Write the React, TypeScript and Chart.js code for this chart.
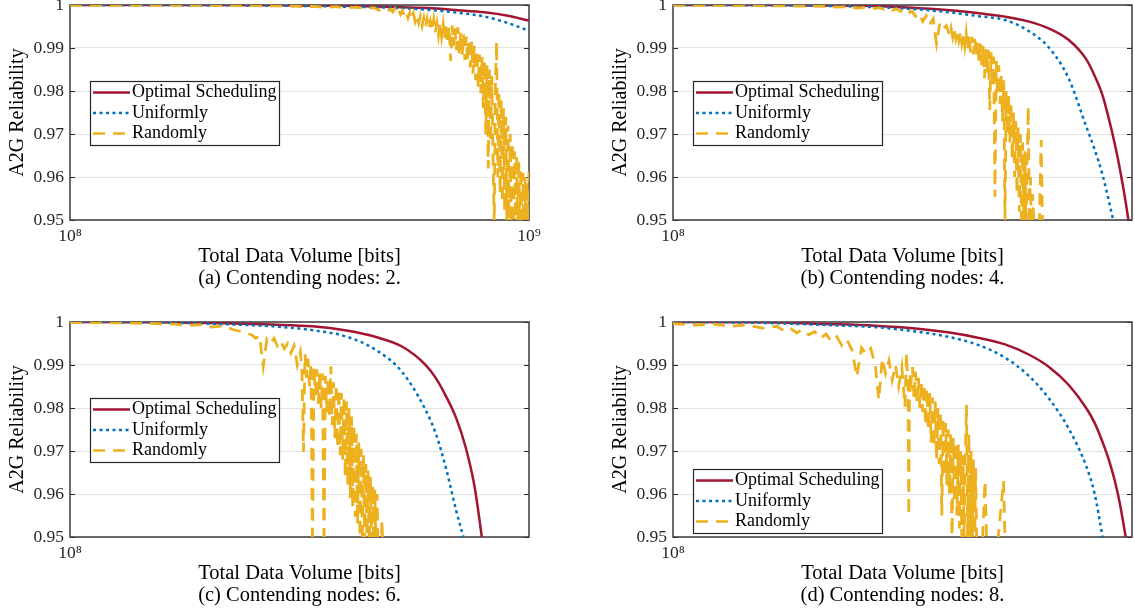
import React, { useEffect, useRef } from 'react';
import { Chart, registerables } from 'chart.js';

Chart.register(...registerables);

const FONT = '"Liberation Serif", "Times New Roman", serif';
Chart.defaults.font.family = FONT;

const SERIES_LABELS = ['Optimal Scheduling', 'Uniformly', 'Randomly'];
const SERIES_COLORS = ['#A2142F', '#0072BD', '#EDB120'];
const Y_TICKS = [0.95, 0.96, 0.97, 0.98, 0.99, 1];
const X_DECADES = [1e8, 1e9];
const X_UNIT = 1e8; // x arrays below are given in units of 1e8 bits
const X_LABEL = 'Total Data Volume [bits]';
const Y_LABEL = 'A2G Reliability';

// ---------- (a) Contending nodes: 2 ----------
const A_X = [1, 2, 3, 4, 5, 6, 7, 8, 9, 10];
const A_OPT = [1.0, 0.99998, 0.99992, 0.9998, 0.99955, 0.9993, 0.9988, 0.9983, 0.9975, 0.99636];
const A_UNI = [1.0, 0.99995, 0.9998, 0.9996, 0.99935, 0.9989, 0.9982, 0.9973, 0.9958, 0.994];
const A_RAND_X = [1, 1.5, 2, 2.5, 3, 3.2, 3.4, 3.6, 3.8, 4, 4.2, 4.4, 4.6, 4.7, 4.8, 4.9,
  5, 5.05, 5.1, 5.15, 5.2, 5.25, 5.3, 5.35, 5.4, 5.45, 5.5, 5.55, 5.6, 5.65, 5.7, 5.75, 5.8, 5.85, 5.9, 5.95,
  6, 6.05, 6.1, 6.15, 6.2, 6.25, 6.3, 6.35, 6.4, 6.45, 6.5, 6.55, 6.6, 6.65, 6.7, 6.75, 6.8, 6.85, 6.9, 6.95,
  7, 7.05, 7.1, 7.15, 7.2, 7.25, 7.3, 7.35, 7.4, 7.45, 7.5, 7.55, 7.6, 7.65, 7.7, 7.75, 7.8, 7.85, 7.9, 7.95,
  8, 8.05, 8.1, 8.15, 8.2, 8.25, 8.3, 8.35, 8.4, 8.45, 8.5, 8.55, 8.6, 8.65, 8.7, 8.75, 8.8, 8.85, 8.9, 8.95,
  9, 9.05, 9.1, 9.15, 9.2, 9.25, 9.3, 9.35, 9.4, 9.45, 9.5, 9.55, 9.6, 9.65, 9.7, 9.75, 9.8, 9.85, 9.9, 9.95, 10];
const A_RAND = [0.99995, 0.9999, 0.9999, 0.99985, 0.9998, 0.9996, 0.9997, 0.9994, 0.9996, 0.9993, 0.9995, 0.9992, 0.9994, 0.9988, 0.9992, 0.9986,
  0.999, 0.9984, 0.9991, 0.998, 0.9988, 0.9978, 0.9986, 0.9975, 0.9984, 0.997, 0.9982, 0.9966, 0.998, 0.9962, 0.9976, 0.9958, 0.9974, 0.9952, 0.997, 0.9948,
  0.9968, 0.9944, 0.9962, 0.994, 0.9966, 0.9936, 0.9958, 0.993, 0.996, 0.9926, 0.9955, 0.9918, 0.9958, 0.991, 0.995, 0.987, 0.9952, 0.9905, 0.9946, 0.9895,
  0.9948, 0.9888, 0.9938, 0.988, 0.9932, 0.9872, 0.9926, 0.9868, 0.992, 0.9855, 0.9915, 0.984, 0.9905, 0.9825, 0.9895, 0.981, 0.9885, 0.9795, 0.988, 0.976,
  0.987, 0.97, 0.986, 0.962, 0.985, 0.968, 0.9835, 0.964, 0.949, 0.982, 0.9915, 0.96, 0.98, 0.956, 0.978, 0.954, 0.976, 0.952, 0.974, 0.95,
  0.972, 0.948, 0.97, 0.949, 0.968, 0.947, 0.966, 0.948, 0.965, 0.946, 0.964, 0.947, 0.962, 0.946, 0.961, 0.945, 0.96, 0.946, 0.959, 0.947, 0.9613];

// ---------- (b) Contending nodes: 4 ----------
const B_X = [1, 1.5, 2, 2.5, 3, 3.5, 4, 4.5, 5, 5.5, 6, 6.5, 6.75, 7, 7.25, 7.5, 7.75, 8];
const B_OPT = [1.0, 0.99999, 0.9999, 0.99975, 0.9993, 0.9988, 0.9981, 0.9973, 0.9962, 0.9945, 0.9919, 0.9874, 0.9836, 0.979, 0.9722, 0.9644, 0.9551, 0.9444];
const B_UNI = [1.0, 0.99995, 0.9998, 0.9995, 0.999, 0.9983, 0.9974, 0.9965, 0.994, 0.99, 0.983, 0.9718, 0.9665, 0.9605, 0.953, 0.945, 0.936, 0.927];
const B_RAND_X = [1, 1.2, 1.4, 1.6, 1.8, 2, 2.1, 2.2, 2.3, 2.4, 2.5, 2.55, 2.6, 2.65, 2.7, 2.75, 2.8, 2.85, 2.9, 2.95, 3, 3.05, 3.1, 3.15, 3.2, 3.25, 3.3, 3.35, 3.4, 3.45,
  3.5, 3.525, 3.55, 3.575, 3.6, 3.625, 3.65, 3.675, 3.7, 3.725, 3.75, 3.775, 3.8, 3.825, 3.85, 3.875, 3.9, 3.925, 3.95, 3.975,
  4, 4.025, 4.05, 4.075, 4.1, 4.125, 4.15, 4.175, 4.2, 4.225, 4.25, 4.275, 4.3, 4.325, 4.35, 4.375, 4.4, 4.425, 4.45, 4.475,
  4.5, 4.525, 4.55, 4.575, 4.6, 4.625, 4.65, 4.675, 4.7, 4.725, 4.75, 4.775, 4.8, 4.825, 4.85, 4.875, 4.9, 4.925, 4.95, 4.975,
  5, 5.025, 5.05, 5.075, 5.1, 5.15, 5.2, 5.25, 5.3, 5.35];
const B_RAND = [0.99995, 0.9999, 0.99985, 0.9998, 0.99975, 0.9997, 0.9995, 0.9996, 0.9993, 0.9995, 0.9992, 0.9994, 0.999, 0.9993, 0.9988, 0.9991, 0.9985, 0.9989, 0.998, 0.9986, 0.9974, 0.9981, 0.9962, 0.9975, 0.9955, 0.9968, 0.991, 0.9958, 0.9945, 0.9952,
  0.993, 0.9946, 0.9925, 0.9944, 0.9922, 0.994, 0.9918, 0.9938, 0.9912, 0.9936, 0.9905, 0.9934, 0.9895, 0.993, 0.989, 0.9926, 0.9885, 0.9922, 0.988, 0.9915,
  0.987, 0.991, 0.986, 0.9905, 0.983, 0.99, 0.984, 0.9895, 0.9756, 0.989, 0.981, 0.988, 0.9554, 0.987, 0.979, 0.986, 0.977, 0.984, 0.973, 0.9825,
  0.95, 0.98, 0.97, 0.979, 0.968, 0.977, 0.964, 0.975, 0.96, 0.973, 0.956, 0.9715, 0.952, 0.97, 0.948, 0.968, 0.95, 0.966, 0.947, 0.964,
  0.9764, 0.949, 0.96, 0.946, 0.956, 0.945, 0.944, 0.945, 0.9686, 0.94];

// ---------- (c) Contending nodes: 6 ----------
const C_X = [1, 1.5, 2, 2.5, 3, 3.5, 4, 4.5, 5, 5.25, 5.5, 5.75, 6, 6.25, 6.5, 7];
const C_OPT = [1.0, 0.99995, 0.9997, 0.9994, 0.999, 0.998, 0.9965, 0.9943, 0.9901, 0.9869, 0.9826, 0.9777, 0.971, 0.9618, 0.9477, 0.92];
const C_UNI = [1.0, 0.9999, 0.9995, 0.999, 0.9981, 0.9966, 0.9935, 0.9884, 0.9797, 0.9739, 0.9657, 0.9562, 0.948, 0.938, 0.928, 0.9];
const C_RAND_X = [1, 1.2, 1.4, 1.6, 1.7, 1.8, 1.9, 2, 2.1, 2.2, 2.28, 2.32, 2.36, 2.4, 2.44, 2.48, 2.52, 2.56, 2.6, 2.64, 2.68, 2.72, 2.76, 2.8,
  2.84, 2.86, 2.88, 2.9, 2.92, 2.94, 2.96, 2.98, 3, 3.02, 3.04, 3.06, 3.08, 3.1, 3.12, 3.14, 3.16, 3.18, 3.2, 3.22, 3.24, 3.26, 3.28, 3.3,
  3.32, 3.34, 3.36, 3.38, 3.4, 3.42, 3.44, 3.46, 3.48, 3.5, 3.52, 3.54, 3.56, 3.58, 3.6, 3.62, 3.64, 3.66, 3.68, 3.7, 3.72, 3.74,
  3.76, 3.78, 3.8, 3.82, 3.84, 3.86, 3.88, 3.9, 3.92, 3.94, 3.96, 3.98, 4, 4.02, 4.04, 4.08, 4.11, 4.14];
const C_RAND = [0.9999, 0.99985, 0.9997, 0.9995, 0.9992, 0.9994, 0.9988, 0.9991, 0.9982, 0.9976, 0.997, 0.9962, 0.9968, 0.9897, 0.996, 0.995, 0.9962, 0.9944, 0.9955, 0.9938, 0.995, 0.9928, 0.9945, 0.99,
  0.993, 0.989, 0.9698, 0.9925, 0.987, 0.9915, 0.985, 0.9905, 0.946, 0.9895, 0.983, 0.989, 0.981, 0.9885, 0.98, 0.988, 0.946, 0.9875, 0.979, 0.987, 0.978, 0.9897, 0.976, 0.986,
  0.973, 0.9855, 0.971, 0.9845, 0.969, 0.9835, 0.968, 0.9825, 0.964, 0.9815, 0.962, 0.98, 0.959, 0.978, 0.957, 0.976, 0.9547, 0.974, 0.953, 0.972, 0.95, 0.9705,
  0.949, 0.969, 0.947, 0.967, 0.948, 0.9655, 0.946, 0.964, 0.947, 0.962, 0.946, 0.961, 0.945, 0.96, 0.945, 0.942, 0.9539, 0.94];

// ---------- (d) Contending nodes: 8 ----------
const D_X = [1, 1.5, 2, 2.5, 3, 3.5, 4, 4.5, 5, 5.5, 6, 6.5, 6.75, 7, 7.25, 7.5, 7.75, 8];
const D_OPT = [1.0, 0.99995, 0.99955, 0.99915, 0.9985, 0.99755, 0.9963, 0.9948, 0.9925, 0.9895, 0.9854, 0.98, 0.9766, 0.9721, 0.9669, 0.9602, 0.951, 0.94];
const D_UNI = [1.0, 0.9998, 0.9993, 0.9988, 0.9978, 0.9965, 0.9946, 0.9917, 0.9876, 0.9821, 0.9753, 0.9665, 0.9602, 0.9499, 0.9383, 0.926, 0.911, 0.893];
const D_RAND_X = [1, 1.1, 1.2, 1.3, 1.4, 1.5, 1.6, 1.65, 1.7, 1.75, 1.8, 1.85, 1.9, 1.95, 2, 2.05, 2.1, 2.15, 2.2, 2.25, 2.3, 2.35, 2.4, 2.45, 2.5, 2.54, 2.58, 2.62, 2.66, 2.7, 2.74, 2.78, 2.82,
  2.86, 2.88, 2.9, 2.91, 2.92, 2.94, 2.96, 2.98, 3, 3.02, 3.04, 3.06, 3.08, 3.1, 3.12, 3.14, 3.16, 3.18, 3.2, 3.22, 3.24, 3.26, 3.28, 3.3,
  3.32, 3.34, 3.36, 3.38, 3.4, 3.42, 3.44, 3.46, 3.48, 3.5, 3.52, 3.54, 3.56, 3.58, 3.6, 3.62, 3.64, 3.66, 3.68, 3.7, 3.72, 3.74,
  3.76, 3.78, 3.8, 3.82, 3.84, 3.86, 3.88, 3.9, 3.92, 3.94, 3.96, 3.98, 4, 4.05, 4.11, 4.15, 4.3, 4.47, 4.52];
const D_RAND = [0.9996, 0.9993, 0.9995, 0.999, 0.9993, 0.9986, 0.999, 0.998, 0.9986, 0.9975, 0.9982, 0.997, 0.9978, 0.9962, 0.9972, 0.9955, 0.9966, 0.9945, 0.9958, 0.9935, 0.9873, 0.994, 0.9925, 0.9938, 0.99, 0.9819, 0.9915, 0.988, 0.991, 0.9865, 0.99, 0.985, 0.9895,
  0.9803, 0.9928, 0.984, 0.955, 0.988, 0.986, 0.9895, 0.982, 0.9885, 0.981, 0.987, 0.98, 0.9862, 0.979, 0.9855, 0.976, 0.9845, 0.975, 0.9835, 0.972, 0.9825, 0.971, 0.9815, 0.968,
  0.98, 0.967, 0.979, 0.955, 0.9775, 0.964, 0.9765, 0.962, 0.975, 0.96, 0.974, 0.948, 0.973, 0.958, 0.972, 0.955, 0.9715, 0.952, 0.97, 0.95, 0.969, 0.948,
  0.97, 0.9807, 0.948, 0.974, 0.949, 0.97, 0.947, 0.968, 0.946, 0.966, 0.947, 0.95, 0.945, 0.945, 0.963, 0.945, 0.942, 0.963, 0.94];

const PANELS = [
  { id: 'a', caption: '(a) Contending nodes: 2.', xMax: 1e9, left: 0, top: -15, legendAnchor: 'top',
    smoothX: A_X, opt: A_OPT, uni: A_UNI, randX: A_RAND_X, rand: A_RAND },
  { id: 'b', caption: '(b) Contending nodes: 4.', xMax: 8e8, left: 603, top: -15, legendAnchor: 'top',
    smoothX: B_X, opt: B_OPT, uni: B_UNI, randX: B_RAND_X, rand: B_RAND },
  { id: 'c', caption: '(c) Contending nodes: 6.', xMax: 8e8, left: 0, top: 302, legendAnchor: 'top',
    smoothX: C_X, opt: C_OPT, uni: C_UNI, randX: C_RAND_X, rand: C_RAND },
  { id: 'd', caption: '(d) Contending nodes: 8.', xMax: 8e8, left: 603, top: 302, legendAnchor: 'bottom',
    smoothX: D_X, opt: D_OPT, uni: D_UNI, randX: D_RAND_X, rand: D_RAND },
];

const CANVAS_W = 560;
const CANVAS_H = 315;
const SUPERSCRIPTS = '⁰¹²³⁴⁵⁶⁷⁸⁹';

const toPoints = (xs: number[], ys: number[]) =>
  ys.map((y, i) => ({ x: xs[i] * X_UNIT, y }));

const framePlugin = {
  id: 'axesFrame',
  beforeDatasetsDraw(chart: any) {
    const { ctx, chartArea: a, scales } = chart;
    const y = scales.y;
    ctx.save();
    ctx.strokeStyle = '#262626';
    ctx.lineWidth = 1;
    ctx.beginPath();
    y.ticks.forEach((t: any) => {
      const py = Math.round(y.getPixelForValue(t.value)) + 0.5;
      ctx.moveTo(a.left, py);
      ctx.lineTo(a.left + 5, py);
      ctx.moveTo(a.right, py);
      ctx.lineTo(a.right - 5, py);
    });
    ctx.stroke();
    ctx.lineWidth = 1.5;
    ctx.strokeStyle = '#3a3a3a';
    ctx.strokeRect(a.left, a.top, a.right - a.left, a.bottom - a.top);
    ctx.restore();
  },
};

const insetLegendPlugin = {
  id: 'insetLegend',
  afterDatasetsDraw(chart: any, _args: any, opts: any) {
    const { ctx, chartArea: a } = chart;
    const w = 189;
    const h = 64;
    const x0 = a.left + 20;
    const y0 = opts.anchor === 'bottom' ? a.bottom - 4 - h : a.top + 76;
    ctx.save();
    ctx.fillStyle = '#ffffff';
    ctx.fillRect(x0, y0, w, h);
    ctx.strokeStyle = '#262626';
    ctx.lineWidth = 1.2;
    ctx.strokeRect(x0 + 0.5, y0 + 0.5, w, h);
    chart.data.datasets.forEach((ds: any, i: number) => {
      const cy = y0 + 11.5 + i * 20.5;
      ctx.beginPath();
      ctx.setLineDash(ds.borderDash || []);
      ctx.strokeStyle = ds.borderColor;
      ctx.lineWidth = 2.5;
      ctx.moveTo(x0 + 3, cy);
      ctx.lineTo(x0 + 40, cy);
      ctx.stroke();
      ctx.setLineDash([]);
      ctx.fillStyle = '#000000';
      ctx.font = `18px ${FONT}`;
      ctx.textBaseline = 'middle';
      ctx.textAlign = 'left';
      ctx.fillText(ds.label, x0 + 42, cy);
    });
    ctx.restore();
  },
};

function Panel({ cfg }: { cfg: any }) {
  const ref = useRef<HTMLCanvasElement | null>(null);
  useEffect(() => {
    if (!ref.current) return;
    const chart = new Chart(ref.current, {
      type: 'line',
      data: {
        datasets: [
          {
            label: SERIES_LABELS[0],
            data: toPoints(cfg.smoothX, cfg.opt),
            borderColor: SERIES_COLORS[0],
            borderWidth: 2.5,
            pointRadius: 0,
            cubicInterpolationMode: 'monotone',
            order: 2,
          },
          {
            label: SERIES_LABELS[1],
            data: toPoints(cfg.smoothX, cfg.uni),
            borderColor: SERIES_COLORS[1],
            borderWidth: 2.5,
            borderDash: [3, 3.5],
            pointRadius: 0,
            cubicInterpolationMode: 'monotone',
            order: 1,
          },
          {
            label: SERIES_LABELS[2],
            data: toPoints(cfg.randX, cfg.rand),
            borderColor: SERIES_COLORS[2],
            borderWidth: 2.8,
            borderDash: [12, 8],
            pointRadius: 0,
            tension: 0,
            order: 0,
          },
        ],
      },
      options: {
        animation: false,
        responsive: false,
        events: [],
        layout: { padding: { left: 0, top: 20, right: 31, bottom: 0 } },
        plugins: {
          legend: { display: false },
          tooltip: { enabled: false },
          insetLegend: { anchor: cfg.legendAnchor },
        } as any,
        scales: {
          x: {
            type: 'logarithmic',
            min: 1e8,
            max: cfg.xMax,
            bounds: 'data',
            afterBuildTicks: (s: any) => {
              s.ticks = X_DECADES.filter((v) => v >= s.min && v <= s.max).map((v) => ({ value: v }));
            },
            afterFit: (s: any) => {
              s.height = 80;
              s.paddingLeft = 0;
              s.paddingRight = 0;
            },
            grid: { display: false, drawTicks: false },
            border: { display: false },
            ticks: {
              autoSkip: false,
              maxRotation: 0,
              minRotation: 0,
              padding: 6,
              color: '#262626',
              font: { family: FONT, size: 17.5 },
              callback: (v: any) => '10' + SUPERSCRIPTS[Math.round(Math.log10(Number(v)))],
            },
            title: {
              display: true,
              text: [X_LABEL, cfg.caption],
              color: '#000000',
              font: { family: FONT, size: 20.5, lineHeight: '21.5px' },
              padding: { top: 0, bottom: 11 },
            },
          },
          y: {
            type: 'linear',
            min: 0.95,
            max: 1,
            afterBuildTicks: (s: any) => {
              s.ticks = Y_TICKS.map((v) => ({ value: v }));
            },
            afterFit: (s: any) => {
              s.width = 70;
              s.paddingTop = 0;
              s.paddingBottom = 0;
            },
            grid: { color: '#e3e3e3', lineWidth: 1, drawTicks: false },
            border: { display: false },
            ticks: {
              padding: 6,
              color: '#262626',
              font: { family: FONT, size: 17.5 },
              callback: (v: any) => (Math.abs(Number(v) - 1) < 1e-9 ? '1' : Number(v).toFixed(2)),
            },
            title: {
              display: true,
              text: Y_LABEL,
              color: '#000000',
              font: { family: FONT, size: 20 },
              padding: { top: 6, bottom: 0 },
            },
          },
        },
      } as any,
      plugins: [framePlugin, insetLegendPlugin],
    });
    return () => chart.destroy();
  }, [cfg]);

  return (
    <canvas
      ref={ref}
      width={CANVAS_W}
      height={CANVAS_H}
      style={{ position: 'absolute', left: cfg.left, top: cfg.top, width: CANVAS_W, height: CANVAS_H }}
    />
  );
}

export default function App() {
  return (
    <div
      style={{
        position: 'fixed',
        left: 0,
        top: 0,
        width: 1135,
        height: 613,
        overflow: 'hidden',
        background: '#ffffff',
      }}
    >
      {PANELS.map((p) => (
        <Panel key={p.id} cfg={p} />
      ))}
    </div>
  );
}
